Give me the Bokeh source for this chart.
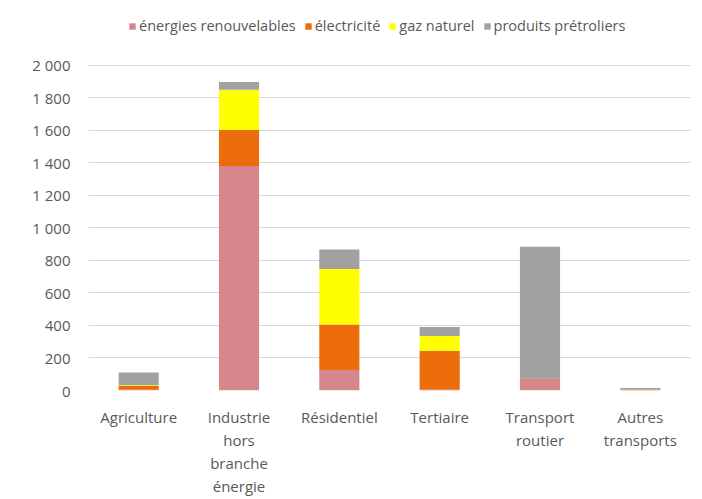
from bokeh.plotting import figure
from bokeh.models import Legend, LegendItem, FixedTicker
from bokeh.embed import file_html
from bokeh.resources import INLINE

categories = ["Agriculture", "Industrie\nhors\nbranche\nénergie", "Résidentiel",
              "Tertiaire", "Transport\nroutier", "Autres\ntransports"]
series_names = ["énergies renouvelables", "électricité", "gaz naturel", "produits prétroliers"]
renouvelables = [5, 1380, 126, 5, 75, 0]
electricite = [22, 221, 279, 239, 0, 6]
gaz_naturel = [5, 248, 342, 91, 0, 0]
petroliers = [78, 47, 120, 55, 809, 9]
y_ticks = [0, 200, 400, 600, 800, 1000, 1200, 1400, 1600, 1800, 2000]
y_tick_labels = ["0", "200", "400", "600", "800", "1 000", "1 200", "1 400", "1 600", "1 800", "2 000"]

colors = ["#D5878B", "#EC6C0B", "#FFFF00", "#A1A1A1"]
keys = ["ren", "ele", "gaz", "pet"]
source = dict(x=categories, ren=renouvelables, ele=electricite, gaz=gaz_naturel, pet=petroliers)

FONT = "Open Sans"
TXT = "#595959"
FS = "15px"

# frame extends above the 2 000 gridline to leave room for the legend inside it
p = figure(x_range=categories, y_range=(0, 2274), width=702, height=499,
           output_backend="svg", toolbar_location=None,
           min_border_left=88, min_border_right=12, min_border_top=20, min_border_bottom=106)
p.border_fill_color = "white"
p.background_fill_color = "white"
p.outline_line_color = None

renderers = p.vbar_stack(keys, x="x", width=0.4, color=colors, line_color=None, source=source)

p.xgrid.grid_line_color = None
p.ygrid.grid_line_color = "#D9D9D9"
p.ygrid.ticker = FixedTicker(ticks=y_ticks)

p.yaxis.ticker = FixedTicker(ticks=y_ticks)
p.yaxis.major_label_overrides = {t: l for t, l in zip(y_ticks, y_tick_labels)}
for ax in (p.xaxis, p.yaxis):
    ax.axis_line_color = None
    ax.major_tick_line_color = None
    ax.minor_tick_line_color = None
    ax.major_label_text_font = FONT
    ax.major_label_text_font_size = FS
    ax.major_label_text_color = TXT
p.yaxis.major_label_standoff = 12
p.xaxis.major_label_standoff = 10
p.xaxis.major_label_text_line_height = 1.16

legend = Legend(items=[LegendItem(label=n, renderers=[r]) for n, r in zip(series_names, renderers)],
                orientation="horizontal", location=(40, 355),
                glyph_width=8, glyph_height=8, label_standoff=3, spacing=8,
                padding=0, margin=0, label_height=16,
                label_text_font=FONT, label_text_font_size="14.5px", label_text_color=TXT,
                border_line_color=None, background_fill_alpha=0)
p.add_layout(legend, "center")

open("out.html", "w").write(file_html(p, INLINE))
